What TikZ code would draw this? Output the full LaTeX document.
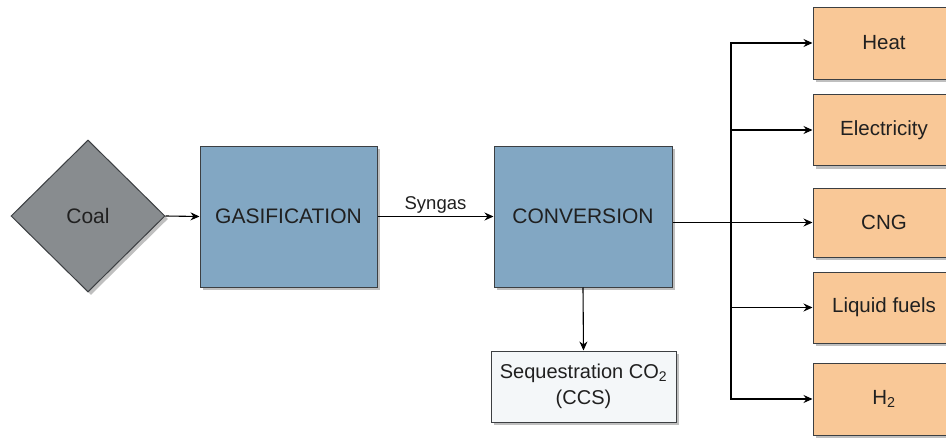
\documentclass[tikz,border=0pt]{standalone}
\usepackage{fontspec}
\setmainfont{Liberation Sans}
\usetikzlibrary{shapes.geometric,arrows.meta,shadows}
\definecolor{bluefill}{HTML}{82A7C3}
\definecolor{grayfill}{HTML}{888C8F}
\definecolor{orangefill}{HTML}{F9C897}
\definecolor{seqfill}{HTML}{F4F7F9}
\definecolor{edge}{HTML}{3C3F42}
\definecolor{txt}{HTML}{202020}
\tikzset{
  shad/.style={drop shadow={shadow xshift=3pt,shadow yshift=-3pt,fill=black,opacity=0.25}},
  box/.style={draw=edge,line width=1pt,shad,inner sep=0pt,text=txt,font=\fontsize{21}{25}\selectfont},
  bluebox/.style={box,rectangle,fill=bluefill,minimum width=177pt,minimum height=141pt},
  outbox/.style={box,rectangle,fill=orangefill,minimum width=142pt,font=\fontsize{20.5}{25}\selectfont},
  arr/.style={draw=black,line width=1.1pt,-{Stealth[length=9pt,width=8pt]}}
}
\begin{document}
\begin{tikzpicture}[x=1pt,y=-1pt]
\useasboundingbox[fill=white] (0,0) rectangle (946,439);
\begin{scope}
\clip (0,0) rectangle (946,439);
\node[box,diamond,fill=grayfill,minimum width=154pt,minimum height=152pt] (coal) at (88,216) {Coal};
\node[bluebox] (gas) at (288.5,216.5) {GASIFICATION};
\node[bluebox,minimum width=178pt] (conv) at (583,216.5) {CONVERSION};
\node[box,rectangle,fill=seqfill,minimum width=185pt,minimum height=71pt,align=center,font=\fontsize{20}{26}\selectfont] (seq) at (583.5,386.5) {Sequestration CO\textsubscript{2}\\(CCS)};
\node[outbox,minimum height=72pt] (heat) at (884,43) {Heat};
\node[outbox,minimum height=71pt] (elec) at (884,130) {Electricity};
\node[outbox,minimum height=69pt] (cng) at (884,222.5) {CNG};
\node[outbox,minimum height=71pt] (liq) at (884,307.5) {Liquid fuels};
\node[outbox,minimum height=72pt] (h2) at (884,399) {H\textsubscript{2}};
\end{scope}
\coordinate (trunk) at (731,0);
\draw[arr] (coal.east) -- (gas.west);
\draw[arr] (gas.east) -- node[above=-1pt,text=txt,font=\fontsize{18.5}{22}\selectfont] (syn) {Syngas} (conv.west);
\draw[arr] (conv.south) -- (seq.north);
\draw[arr] (conv.east |- cng.west) -- (cng.west);
\draw[arr] (trunk |- cng.west) |- (heat.west);
\draw[arr] (trunk |- cng.west) |- (elec.west);
\draw[arr] (trunk |- cng.west) |- (liq.west);
\draw[arr] (trunk |- cng.west) |- (h2.west);
\end{tikzpicture}
\end{document}
